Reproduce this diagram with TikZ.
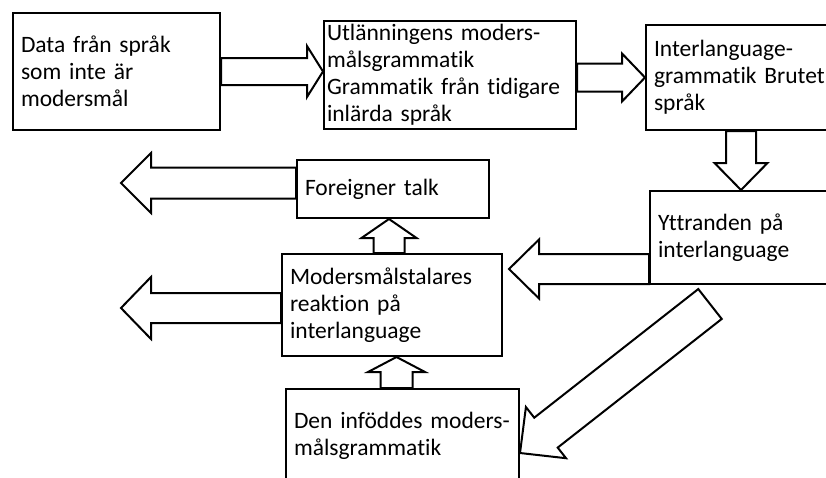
\documentclass[tikz,border=0pt]{standalone}
\usepackage{fontspec}
\setmainfont{Carlito}[Ligatures=NoCommon]
\usetikzlibrary{positioning, calc}

% hollow block arrow: from, to, shaft half width, head half width, head length
\newcommand{\fatarrow}[5]{%
  \path (#1) coordinate (fa-a) (#2) coordinate (fa-b);
  \coordinate (fa-h) at ($(fa-b)!#5!(fa-a)$);
  \draw[fat] ($(fa-a)!#3!90:(fa-b)$) -- ($(fa-h)!#3!90:(fa-b)$)
    -- ($(fa-h)!#4!90:(fa-b)$) -- (fa-b)
    -- ($(fa-h)!#4!-90:(fa-b)$) -- ($(fa-h)!#3!-90:(fa-b)$)
    -- ($(fa-a)!#3!-90:(fa-b)$) -- cycle;
}

\begin{document}
\begin{tikzpicture}[x=1pt, y=-1pt,
    box/.style={rectangle, draw, line width=2pt, anchor=north west, align=left,
                inner xsep=8pt, inner ysep=0pt,
                font=\fontsize{23.5}{27}\selectfont},
    fat/.style={draw, line width=2pt, line join=miter}
  ]
    \fill[white] (0,0) rectangle (826,477);
    \useasboundingbox (0,0) rectangle (826,477);
    \clip (0,0) rectangle (826,477);

    \node[box, text width=191pt, minimum height=117pt] (data) at (12,12) {Data från språk\\som inte är\\modersmål};
    \node[box, inner xsep=3pt, text width=246pt, minimum height=108pt] (utl) at (323,20) {Utlänningens moders-\\målsgrammatik\\Grammatik från tidigare\\inlärda språk};
    \node[box, text width=200pt, minimum height=105pt] (inter) at (645,24) {Interlanguage-\\grammatik Brutet\\språk};
    \node[box, text width=196pt, minimum height=93pt] (yttr) at (649,190) {Yttranden på\\interlanguage};
    \node[box, text width=176pt, minimum height=58pt] (foreign) at (296,159) {Foreigner talk};
    \node[box, text width=204pt, minimum height=102pt] (reakt) at (281,253) {Modersmålstalares\\reaktion på\\interlanguage};
    \node[box, text width=217pt, minimum height=94pt] (infodd) at (285,388) {\mbox{Den inföddes moders-}\\målsgrammatik};

    \coordinate (ya) at ([yshift=-31.5pt]yttr.west);
    \coordinate (fgout) at (121,183);
    \coordinate (rkout) at (121,308);
    \coordinate (rf) at ([xshift=-3pt]reakt.north);
    \coordinate (ir) at ([xshift=-6pt]infodd.north);
    \coordinate (ia) at ([xshift=96pt]inter.south west);
    \coordinate (yd) at ([xshift=61pt,yshift=-19pt]yttr.south west);

    \fatarrow{data.east}{data.east -| utl.west}{13.5pt}{25.5pt}{16pt}
    \fatarrow{inter.west -| utl.east}{inter.west}{14pt}{24pt}{23pt}
    \fatarrow{ia}{ia |- yttr.north}{15pt}{26.5pt}{27pt}
    \fatarrow{ya}{$(ya -| reakt.east)+(6,0)$}{15pt}{29.5pt}{30pt}
    \fatarrow{foreign.west |- fgout}{fgout}{15.5pt}{30pt}{30pt}
    \fatarrow{reakt.west |- rkout}{rkout}{15pt}{31pt}{30pt}
    \fatarrow{rf}{rf |- foreign.south}{15.5pt}{27.5pt}{19pt}
    \fatarrow{ir}{ir |- reakt.south}{16pt}{28.5pt}{15pt}
    \fatarrow{yd}{[yshift=-17pt]infodd.east}{19pt}{32.5pt}{33pt}
\end{tikzpicture}
\end{document}
